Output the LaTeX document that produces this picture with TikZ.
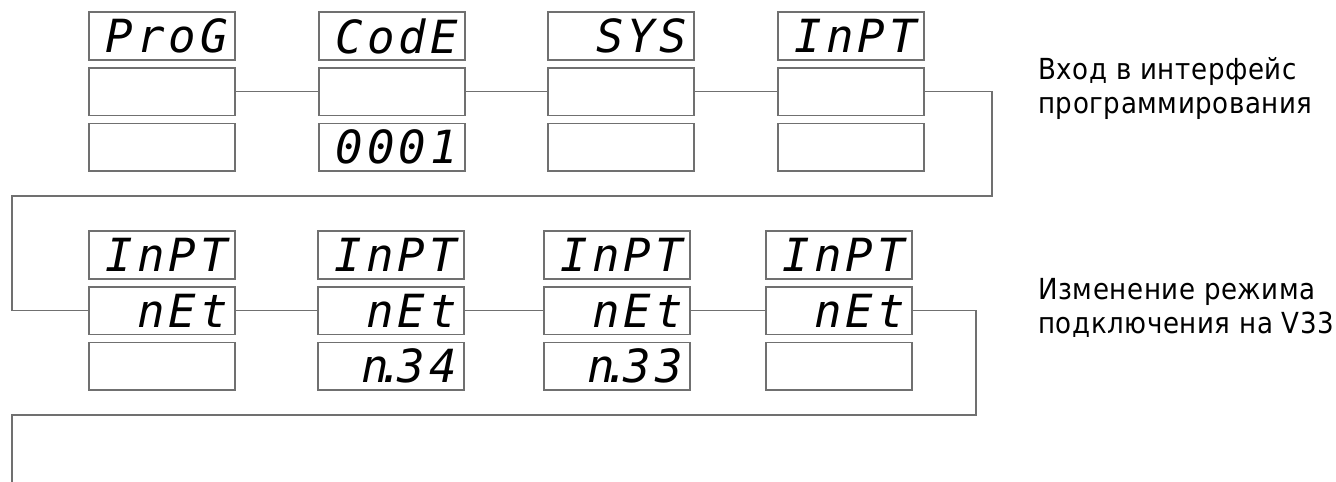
\documentclass[tikz,border=0pt]{standalone}
\usepackage{fontspec}
\setmainfont{Liberation Sans}
\newfontfamily\segfont[LetterSpace=9]{DejaVu Sans Mono}
\IfFontExistsTF{DejaVu Sans Condensed}
  {\newfontfamily\notefont[LetterSpace=2]{DejaVu Sans Condensed}}
  {\newfontfamily\notefont[LetterSpace=2,FakeStretch=0.9]{DejaVu Sans}}
\usetikzlibrary{positioning}
\definecolor{lcdgray}{RGB}{112,112,112}
\tikzset{
  lcd/.style={draw=lcdgray, line width=0.9pt, minimum width=2.92cm, minimum height=0.95cm,
    inner sep=0pt, text width=2.64cm, align=right,
    font=\segfont\itshape\fontsize{26}{26}\selectfont},
  wire/.style={draw=lcdgray, line width=0.9pt},
  note/.style={align=left, anchor=base west, inner sep=0pt,
    font=\notefont\fontsize{16.5}{19.4}\selectfont}
}
\begin{document}
\begin{tikzpicture}[x=0.02cm, y=-0.02cm, node distance=0.13cm]
\useasboundingbox (0,0) rectangle (1336,482);

% programming entry
\node[lcd] (progT) at (162,36) {ProG};
\node[lcd, below=of progT] (progM) {};
\node[lcd, below=of progM] (progB) {};
\node[lcd] (codeT) at (392,36) {CodE};
\node[lcd, below=of codeT] (codeM) {};
\node[lcd, below=of codeM] (codeB) {0001};
\node[lcd] (sysT) at (621,36) {SYS};
\node[lcd, below=of sysT] (sysM) {};
\node[lcd, below=of sysM] (sysB) {};
\node[lcd] (inptT) at (851,36) {InPT};
\node[lcd, below=of inptT] (inptM) {};
\node[lcd, below=of inptM] (inptB) {};

% connection mode
\node[lcd] (netaT) at (162,255) {InPT};
\node[lcd, below=of netaT] (netaM) {nEt};
\node[lcd, below=of netaM] (netaB) {};
\node[lcd] (netbT) at (391,255) {InPT};
\node[lcd, below=of netbT] (netbM) {nEt};
\node[lcd, below=of netbM] (netbB) {n\kern-.25em.\kern-.15em34};
\node[lcd] (netcT) at (617,255) {InPT};
\node[lcd, below=of netcT] (netcM) {nEt};
\node[lcd, below=of netcM] (netcB) {n\kern-.25em.\kern-.15em33};
\node[lcd] (netdT) at (839,255) {InPT};
\node[lcd, below=of netdT] (netdM) {nEt};
\node[lcd, below=of netdM] (netdB) {};

\coordinate (turnA) at (992,196);
\coordinate (backA) at (12,196);
\coordinate (turnB) at (976,415);
\coordinate (backB) at (12,415);
\coordinate (endB) at (12,482);

\draw[wire] (progM) -- (codeM);
\draw[wire] (codeM) -- (sysM);
\draw[wire] (sysM) -- (inptM);
\draw[wire] (inptM.east) -| (turnA) -- (backA) |- (netaM.west);
\draw[wire] (netaM) -- (netbM);
\draw[wire] (netbM) -- (netcM);
\draw[wire] (netcM) -- (netdM);
\draw[wire] (netdM.east) -| (turnB) -- (backB) -- (endB);

\node[note] (noteA) at (1038,114) {Вход в интерфейс\\программирования};
\node[note] (noteB) at (1038,334) {Изменение режима\\подключения на V33};
\end{tikzpicture}
\end{document}
